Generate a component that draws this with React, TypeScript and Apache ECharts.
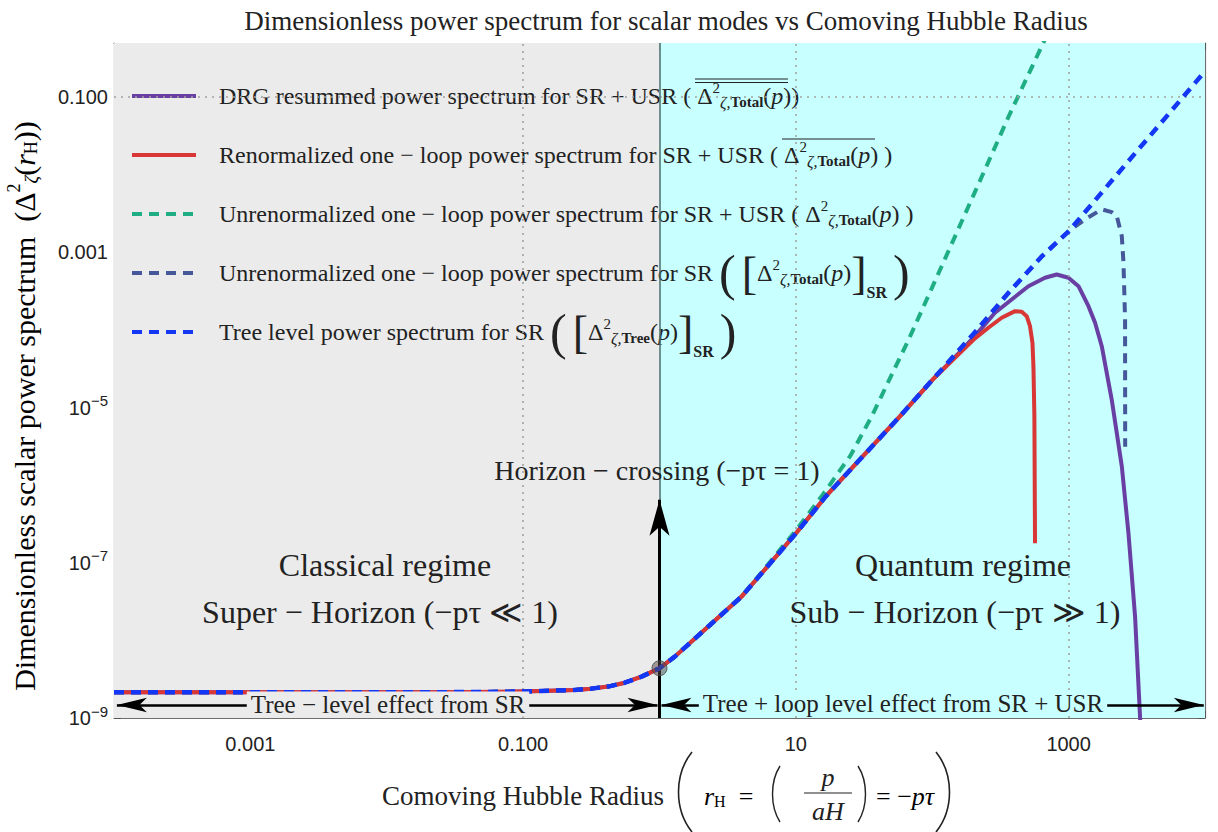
import React, { useEffect, useRef } from 'react';
import * as echarts from 'echarts';

const SERIF = 'Liberation Serif, DejaVu Serif, serif';
const SANS = 'Liberation Sans, Arial, sans-serif';
const TXT = '#222222';

// ---- tick labels (by decade exponent) ----
const xTickExps = [-3, -1, 1, 3];
const xTickTexts = ['0.001', '0.100', '10', '1000'];
const yTickExps = [-1, -3, -5, -7, -9];
const yTickTexts = ['0.100', '0.001', '{b|10}{s|−5}', '{b|10}{s|−7}', '{b|10}{s|−9}'];

// ---- dotted grid positions ----
const gridX = [0.001, 0.1, 10, 1000];
const gridY = [1e-7, 1e-5, 1e-3, 0.1];

// ---- series names ----
const N_DRG = 'DRG resummed power spectrum for SR + USR';
const N_REN = 'Renormalized one − loop power spectrum for SR + USR';
const N_UTOT = 'Unrenormalized one − loop power spectrum for SR + USR';
const N_USR = 'Unrenormalized one − loop power spectrum for SR';
const N_TREE = 'Tree level power spectrum for SR';

// ---- data (x = comoving Hubble radius, y = power spectrum) ----
const sharedX = [1e-4, 0.001, 0.01, 0.0251, 0.0776, 0.136, 0.239, 0.317, 0.42, 0.556, 0.738, 1, 1.295, 2.28, 4.0];
const sharedY = [2.15e-9, 2.15e-9, 2.15e-9, 2.15e-9, 2.18e-9, 2.23e-9, 2.3e-9, 2.39e-9, 2.54e-9, 2.85e-9, 3.41e-9, 4.38e-9, 6.18e-9, 1.51e-8, 3.67e-8];

const treeTailX = [10.1, 16.5, 30.8, 57.7, 100.7, 205, 364, 635, 1000, 10000];
const treeTailY = [2.44e-7, 7.11e-7, 2.33e-6, 7.66e-6, 2.3e-5, 9.29e-5, 3.05e-4, 8.87e-4, 1.87e-3, 0.216];

const renTailX = [10.1, 16.5, 30.8, 57.7, 100.7, 164.3, 205.7, 258, 323, 404.5, 453, 493, 521, 543, 552, 561, 567];
const renTailY = [2.44e-7, 7.11e-7, 2.33e-6, 7.66e-6, 2.3e-5, 5.3e-5, 7.8e-5, 1.07e-4, 1.44e-4, 1.75e-4, 1.72e-4, 1.51e-4, 1.12e-4, 6.84e-5, 3.41e-5, 7.73e-6, 1.79e-7];

const drgTailX = [10.1, 16.5, 30.8, 57.7, 100.7, 164.3, 205.7, 288.4, 507, 671, 818, 997, 1181, 1398, 1563, 1750, 2070, 2455, 2746, 3071, 3339, 3500];
const drgTailY = [2.44e-7, 7.11e-7, 2.33e-6, 7.66e-6, 2.3e-5, 5.5e-5, 8.4e-5, 1.67e-4, 3.67e-4, 4.72e-4, 5.2e-4, 4.72e-4, 3.67e-4, 2.03e-4, 1.24e-4, 6.18e-5, 1.27e-5, 1.75e-6, 2.42e-7, 2.03e-8, 1.04e-9, 2e-10];

const uTotTailX = [10.1, 15.8, 25.1, 35.9, 67.1, 117, 205, 364, 656, 800];
const uTotTailY = [2.67e-7, 7.6e-7, 2.4e-6, 7.66e-6, 7.53e-5, 6.59e-4, 5.94e-3, 0.0569, 0.513, 1.2];

const uSrTailX = [10.1, 16.5, 30.8, 57.7, 100.7, 205, 364, 635, 1000, 1319, 1750, 2070, 2254, 2455, 2525, 2594, 2598];
const uSrTailY = [2.44e-7, 7.11e-7, 2.33e-6, 7.66e-6, 2.3e-5, 9.29e-5, 3.05e-4, 8.87e-4, 1.87e-3, 2.67e-3, 3.59e-3, 3.31e-3, 2.94e-3, 1.62e-3, 7.36e-4, 1.36e-4, 3.14e-6];

// horizon-crossing marker point
const crossX = [1];
const crossY = [4.38e-9];

const zip = (xs: number[], ys: number[]) => xs.map((x, i) => [x, ys[i]]);
const full = (tx: number[], ty: number[]) => zip(sharedX.concat(tx), sharedY.concat(ty));

const expOf = (v: number) => Math.round(Math.log10(v));

const LF = 24; // legend font size
const richBase = (extra: any = {}) => ({ fontFamily: SERIF, fontSize: LF, color: TXT, ...extra });
const mathRich = {
  r: richBase(),
  r0: richBase({ padding: [0, 0, 0, 18] }),
  D: richBase(),
  sp: richBase({ fontSize: 15, padding: [0, 0, 16, 0] }),
  zs: richBase({ fontSize: 16, fontStyle: 'italic', padding: [12, 0, 0, 0] }),
  bs: richBase({ fontSize: 15, fontWeight: 'bold', padding: [12, 0, 0, 0] }),
  i: richBase({ fontStyle: 'italic' }),
  bp: richBase({ fontSize: 50 }),
  bb: richBase({ fontSize: 46 }),
  srs: richBase({ fontSize: 16, fontWeight: 'bold', verticalAlign: 'bottom' }),
};

const dTotal = '{D|Δ}{sp|2}{zs|ζ,}{bs|Total}{r|(}{i|p}{r|)}';
const dTree = '{D|Δ}{sp|2}{zs|ζ,}{bs|Tree}{r|(}{i|p}{r|)}';
const legendText: Record<string, string> = {
  [N_DRG]: `{r0|${N_DRG} ( }${dTotal}{r|)}`,
  [N_REN]: `{r0|${N_REN} ( }${dTotal}{r| )}`,
  [N_UTOT]: `{r0|${N_UTOT} ( }${dTotal}{r| )}`,
  [N_USR]: `{r0|${N_USR} }{bp|(}{r| }{bb|[}${dTotal}{bb|]}{srs|SR}{r| }{bp|)}`,
  [N_TREE]: `{r0|${N_TREE} }{bp|(}{r| }{bb|[}${dTree}{bb|]}{srs|SR}{r| }{bp|)}`,
};

const C_DRG = '#6a3fa4';
const C_REN = '#d93636';
const C_UTOT = '#1fae84';
const C_USR = '#46579a';
const C_TREE = '#1437f5';

const lineSeries = (name: string, data: number[][], color: string, width: number, type: any, z: number) => ({
  name,
  type: 'line',
  data,
  symbol: 'none',
  showSymbol: false,
  clip: true,
  silent: true,
  z,
  lineStyle: { color, width, type, join: 'round', cap: 'butt' },
  itemStyle: { color },
});

const axisCommon = {
  type: 'log',
  logBase: 10,
  splitLine: { show: false },
  axisLine: { show: true, onZero: false, lineStyle: { color: '#6e6e6e', width: 1.2 } },
  axisTick: { show: true, inside: true, length: 7, lineStyle: { color: '#555', width: 1 } },
};

const yb = 1.47e-9;

const textEl = (text: string, x: number, y: number, fontSize: number, extra: any = {}) => ({
  type: 'text',
  x,
  y,
  z: 100,
  silent: true,
  style: { text, fontSize, fontFamily: SERIF, fill: TXT, align: 'center', verticalAlign: 'middle', ...extra },
});

const hLine = (x1: number, y1: number, x2: number, y2: number, w = 1.1) => ({
  type: 'line', z: 100, silent: true, shape: { x1, y1, x2, y2 }, style: { stroke: TXT, lineWidth: w },
});

const paren = (xEnd: number, xMid: number, y1: number, y2: number, w = 1.6) => ({
  type: 'bezierCurve', z: 100, silent: true,
  shape: {
    x1: xEnd, y1, x2: xEnd, y2,
    cpx1: xMid, cpy1: y1 + (y2 - y1) * 0.28, cpx2: xMid, cpy2: y1 + (y2 - y1) * 0.72,
  },
  style: { stroke: TXT, lineWidth: w, fill: 'none' },
});

const YF = 30; // y-axis title font size

const option: any = {
  animation: false,
  backgroundColor: '#ffffff',
  textStyle: { fontFamily: SERIF },
  title: {
    text: 'Dimensionless power spectrum for scalar modes vs Comoving Hubble Radius',
    left: 661,
    top: 2,
    textAlign: 'center',
    textStyle: { fontFamily: SERIF, fontSize: 27, fontWeight: 'normal', color: TXT },
  },
  grid: { left: 114, right: 13, top: 43, bottom: 114, containLabel: false },
  legend: {
    data: [N_DRG, N_REN, N_UTOT, N_USR, N_TREE],
    orient: 'vertical',
    left: 130,
    top: 69,
    padding: 0,
    itemGap: 5,
    itemWidth: 64,
    itemHeight: 14,
    selectedMode: false,
    itemStyle: { opacity: 0, borderWidth: 0 },
    lineStyle: { width: 4 },
    formatter: (name: string) => legendText[name],
    textStyle: { fontFamily: SERIF, fontSize: LF, color: TXT, lineHeight: 54, rich: mathRich },
  },
  xAxis: [
    {
      ...axisCommon,
      position: 'bottom',
      min: 1e-4,
      max: 1e4,
      interval: 1,
      splitNumber: 8,
      axisLabel: {
        margin: 16,
        fontFamily: SANS,
        fontSize: 20,
        color: TXT,
        formatter: (v: number) => {
          const k = xTickExps.indexOf(expOf(v));
          return k >= 0 ? xTickTexts[k] : '';
        },
      },
    },
    {
      ...axisCommon,
      position: 'top',
      min: 1e-4,
      max: 1e4,
      interval: 1,
      splitNumber: 8,
      axisLabel: { show: false },
    },
  ],
  yAxis: [
    {
      ...axisCommon,
      position: 'left',
      min: 1e-9,
      max: 0.5,
      interval: 1,
      splitNumber: 9,
      axisLabel: {
        margin: 6,
        fontFamily: SANS,
        fontSize: 20,
        color: TXT,
        formatter: (v: number) => {
          const k = yTickExps.indexOf(expOf(v));
          return k >= 0 ? yTickTexts[k] : '';
        },
        rich: {
          b: { fontFamily: SANS, fontSize: 20, color: TXT },
          s: { fontFamily: SANS, fontSize: 15, color: TXT, padding: [0, 0, 14, 0] },
        },
      },
    },
    {
      ...axisCommon,
      position: 'right',
      min: 1e-9,
      max: 0.5,
      interval: 1,
      splitNumber: 9,
      axisLabel: { show: false },
    },
  ],
  series: [
    {
      name: 'background',
      type: 'line',
      data: [[1, 1e-5]],
      symbol: 'none',
      silent: true,
      z: 1,
      lineStyle: { width: 0, opacity: 0 },
      markArea: {
        silent: true,
        label: { show: false },
        data: [
          [{ xAxis: 1e-4, itemStyle: { color: '#ebebeb' } }, { xAxis: 1 }],
          [{ xAxis: 1, itemStyle: { color: '#c8ffff' } }, { xAxis: 1e4 }],
        ],
      },
      markLine: {
        silent: true,
        symbol: ['none', 'none'],
        label: { show: false },
        lineStyle: { color: '#a3a3a3', width: 1.6, type: [2, 5] },
        data: [
          ...gridX.map((v) => ({ xAxis: v })),
          ...gridY.map((v) => ({ yAxis: v })),
          { xAxis: 1, lineStyle: { color: '#4b6c6c', width: 1.5, type: 'solid' } },
        ],
      },
    },
    lineSeries(N_UTOT, full(uTotTailX, uTotTailY), C_UTOT, 4, [10, 7], 3),
    lineSeries(N_DRG, full(drgTailX, drgTailY), C_DRG, 4, 'solid', 4),
    lineSeries(N_REN, full(renTailX, renTailY), C_REN, 4, 'solid', 5),
    lineSeries(N_USR, full(uSrTailX, uSrTailY), C_USR, 4, [10, 7], 6),
    lineSeries(N_TREE, full(treeTailX, treeTailY), C_TREE, 4.5, [10, 7], 7),
    {
      name: 'arrows',
      type: 'line',
      data: [[1, 1e-5]],
      symbol: 'none',
      silent: true,
      z: 8,
      lineStyle: { width: 0, opacity: 0 },
      markLine: {
        silent: true,
        label: { show: false },
        lineStyle: { color: '#000', width: 2.5, type: 'solid' },
        data: [
          [
            { coord: [1, 1e-9], symbol: 'none', lineStyle: { width: 3 } },
            { coord: [1, 6.5e-7], symbol: 'arrow', symbolSize: [15, 36] },
          ],
          [
            { coord: [1.05e-4, yb], symbol: 'arrow', symbolSize: [11, 30] },
            { coord: [0.967, yb], symbol: 'arrow', symbolSize: [11, 30] },
          ],
          [
            { coord: [1.034, yb], symbol: 'arrow', symbolSize: [11, 30] },
            { coord: [9800, yb], symbol: 'arrow', symbolSize: [11, 30] },
          ],
        ],
      },
    },
    {
      name: 'crossing',
      type: 'scatter',
      data: zip(crossX, crossY),
      symbolSize: 15,
      silent: true,
      z: 20,
      itemStyle: { color: 'rgba(90,70,70,0.65)', borderColor: '#444', borderWidth: 1 },
    },
  ],
  graphic: [
    // y-axis title (rotated)
    {
      type: 'text', x: 24, y: 406, rotation: Math.PI / 2, z: 100, silent: true,
      style: {
        text: '{r|Dimensionless scalar power spectrum  (}{D|Δ}{sp|2}{zs|ζ}{r|(}{i|r}{hs|H}{r|))}',
        align: 'center', verticalAlign: 'middle',
        rich: {
          r: richBase({ fontSize: YF }),
          D: richBase({ fontSize: YF }),
          sp: richBase({ fontSize: 18, padding: [0, 0, 20, 0] }),
          zs: richBase({ fontSize: 19, fontStyle: 'italic', padding: [15, 0, 0, 0] }),
          i: richBase({ fontSize: YF, fontStyle: 'italic' }),
          hs: richBase({ fontSize: 18, padding: [13, 0, 0, 0] }),
        },
      },
    },
    textEl('Horizon − crossing (−pτ = 1)', 657, 470, 28),
    textEl('Classical regime', 385, 565, 32),
    textEl('Super − Horizon (−pτ ≪ 1)', 380, 612, 32),
    textEl('Quantum regime', 963, 565, 32),
    textEl('Sub − Horizon (−pτ ≫ 1)', 955, 612, 32),
    textEl('Tree − level effect from SR', 388, 704, 25, { backgroundColor: '#ebebeb', padding: [0, 4, 0, 4] }),
    textEl('Tree + loop level effect from SR + USR', 903, 703, 25, { backgroundColor: '#c8ffff', padding: [0, 4, 0, 4] }),
    // legend overlines
    hLine(695, 79, 788, 79),
    hLine(695, 82.5, 788, 82.5),
    hLine(782, 139, 875, 139),
    // x-axis title
    textEl('Comoving Hubble Radius', 523, 796, 27),
    paren(692, 674, 752, 832),
    {
      type: 'text', x: 704, y: 796, z: 100, silent: true,
      style: {
        text: '{i|r}{s|H}{r|  =}', align: 'left', verticalAlign: 'middle',
        rich: {
          i: richBase({ fontSize: 26, fontStyle: 'italic' }),
          s: richBase({ fontSize: 16, padding: [10, 0, 0, 0] }),
          r: richBase({ fontSize: 26 }),
        },
      },
    },
    paren(780, 770, 766, 822, 1.4),
    textEl('p', 828, 777, 26, { fontStyle: 'italic' }),
    hLine(804, 793, 852, 793, 1.2),
    textEl('aH', 828, 811, 26, { fontStyle: 'italic' }),
    paren(858, 868, 766, 822, 1.4),
    {
      type: 'text', x: 876, y: 796, z: 100, silent: true,
      style: {
        text: '{r|= −}{i|pτ}', align: 'left', verticalAlign: 'middle',
        rich: {
          i: richBase({ fontSize: 26, fontStyle: 'italic' }),
          r: richBase({ fontSize: 26 }),
        },
      },
    },
    paren(936, 954, 752, 832),
  ],
};

export default function App() {
  const ref = useRef<HTMLDivElement>(null);
  useEffect(() => {
    const chart = echarts.init(ref.current as HTMLDivElement, null, { renderer: 'svg' });
    chart.setOption(option);
    return () => chart.dispose();
  }, []);
  return (
    <div
      ref={ref}
      style={{ position: 'fixed', left: 0, top: 0, width: 1218, height: 832, background: '#fff' }}
    />
  );
}
